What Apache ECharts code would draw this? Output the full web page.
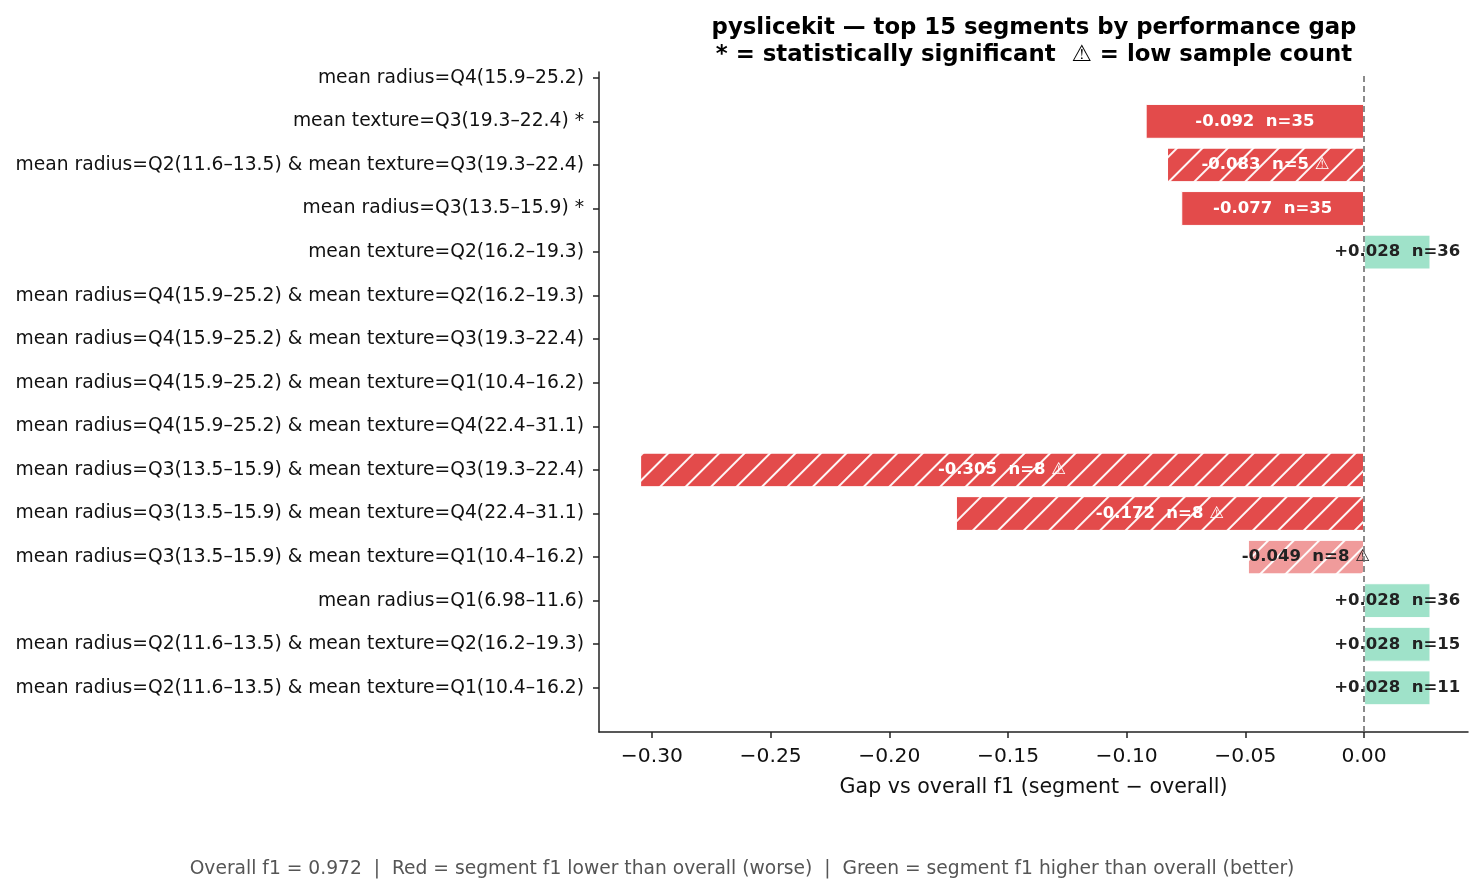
<!DOCTYPE html>
<html>
<head>
<meta charset="utf-8">
<title>pyslicekit segments</title>
<script src="https://cdn.jsdelivr.net/npm/echarts@6/dist/echarts.min.js"></script>
<style>
  html, body { margin: 0; padding: 0; background: #fff; }
  #chart { width: 1484px; height: 894px; }
</style>
</head>
<body>
<div id="chart"></div>
<script>
const segments = [
    'mean radius=Q4(15.9–25.2)',
    'mean texture=Q3(19.3–22.4) *',
    'mean radius=Q2(11.6–13.5) & mean texture=Q3(19.3–22.4)',
    'mean radius=Q3(13.5–15.9) *',
    'mean texture=Q2(16.2–19.3)',
    'mean radius=Q4(15.9–25.2) & mean texture=Q2(16.2–19.3)',
    'mean radius=Q4(15.9–25.2) & mean texture=Q3(19.3–22.4)',
    'mean radius=Q4(15.9–25.2) & mean texture=Q1(10.4–16.2)',
    'mean radius=Q4(15.9–25.2) & mean texture=Q4(22.4–31.1)',
    'mean radius=Q3(13.5–15.9) & mean texture=Q3(19.3–22.4)',
    'mean radius=Q3(13.5–15.9) & mean texture=Q4(22.4–31.1)',
    'mean radius=Q3(13.5–15.9) & mean texture=Q1(10.4–16.2)',
    'mean radius=Q1(6.98–11.6)',
    'mean radius=Q2(11.6–13.5) & mean texture=Q2(16.2–19.3)',
    'mean radius=Q2(11.6–13.5) & mean texture=Q1(10.4–16.2)'
];
const gaps = [null, -0.092, -0.083, -0.077, 0.028, null, null, null, null, -0.305, -0.172, -0.049, 0.028, 0.028, 0.028];
const counts = [null, 35, 5, 35, 36, null, null, null, null, 8, 8, 8, 36, 15, 11];
const xTicks = [-0.30, -0.25, -0.20, -0.15, -0.10, -0.05, 0.00];

const titleText = 'pyslicekit — top 15 segments by performance gap\n* = statistically significant  ⚠ = low sample count';
const footerText = 'Overall f1 = 0.972  |  Red = segment f1 lower than overall (worse)  |  Green = segment f1 higher than overall (better)';
const xName = 'Gap vs overall f1 (segment − overall)';

const FONT = 'DejaVu Sans';
const LOW_N = 10;        // below this the sample is "low"
const SMALL_GAP = 0.05;  // weaker red for small negative gaps
const X_MIN = -0.3223, X_MAX = 0.0438;

const hatch = {
    symbol: 'rect', symbolSize: 1,
    dashArrayX: [1, 0], dashArrayY: [2, 16],
    rotation: -Math.PI / 4,
    color: 'rgba(255,255,255,0.95)'
};

const barData = gaps.map((g, i) => {
    if (g === null) return { value: null, label: { show: false } };
    const n = counts[i];
    const low = n < LOW_N;
    let color = '#9fe2c9', textColor = '#222';
    if (g < 0) {
        if (Math.abs(g) >= SMALL_GAP) { color = '#e34b4b'; textColor = '#fff'; }
        else { color = '#f09b9b'; }
    }
    const txt = (g > 0 ? '+' : '') + g.toFixed(3) + '  n=' + n + (low ? ' ⚠' : '');
    return {
        value: g,
        itemStyle: { color: color, decal: low ? hatch : null },
        label: { formatter: txt, color: textColor }
    };
});

const chart = echarts.init(document.getElementById('chart'));
chart.setOption({
    animation: false,
    title: [{
        text: titleText,
        left: 1034, top: 15, textAlign: 'center', padding: 0,
        textStyle: { fontFamily: FONT, fontSize: 22.8, fontWeight: 'bold', color: '#000', lineHeight: 27 }
    }, {
        text: footerText,
        left: 'center', top: 858, padding: 0,
        textStyle: { fontFamily: FONT, fontSize: 18.7, fontWeight: 'normal', color: '#555', lineHeight: 22 }
    }],
    grid: [
        { left: 599, right: 16, top: 72, bottom: 162, outerBoundsMode: 'none' },
        { left: 599, right: 16, top: 56, bottom: 184.4, outerBoundsMode: 'none' }
    ],
    xAxis: [{
        gridIndex: 0, type: 'value', min: X_MIN, max: X_MAX,
        splitLine: { show: false },
        axisLine: { show: true, onZero: false, lineStyle: { color: '#222', width: 1.5 } },
        axisTick: { show: true, length: 6, customValues: xTicks, lineStyle: { color: '#222', width: 1.5 } },
        axisLabel: {
            customValues: xTicks, margin: 15, fontFamily: FONT, fontSize: 20.3, color: '#111',
            formatter: v => (v < -1e-9 ? '−' : '') + Math.abs(v).toFixed(2)
        },
        name: xName, nameLocation: 'middle', nameGap: 45,
        nameTextStyle: { fontFamily: FONT, fontSize: 20.6, color: '#111', verticalAlign: 'top' }
    }, {
        gridIndex: 1, type: 'value', min: X_MIN, max: X_MAX, show: false
    }],
    yAxis: [{
        gridIndex: 0, type: 'value', min: 0, max: 1,
        splitLine: { show: false }, axisTick: { show: false }, axisLabel: { show: false },
        axisLine: { show: true, onZero: false, lineStyle: { color: '#222', width: 1.5 } }
    }, {
        gridIndex: 1, type: 'category', data: segments, inverse: true,
        axisLine: { show: false, onZero: false },
        axisTick: { show: true, alignWithLabel: true, length: 6, lineStyle: { color: '#222', width: 1.5 } },
        axisLabel: { margin: 15, fontFamily: FONT, fontSize: 18.7, color: '#111' }
    }],
    series: [{
        type: 'bar', xAxisIndex: 1, yAxisIndex: 1,
        data: barData, barWidth: '80%',
        itemStyle: { borderColor: '#fff', borderWidth: 1 },
        label: { show: true, position: 'inside', fontFamily: FONT, fontSize: 16.5, fontWeight: 'bold' },
        z: 2
    }, {
        type: 'line', xAxisIndex: 0, yAxisIndex: 0,
        data: [[0, 0]], showSymbol: false, lineStyle: { opacity: 0 },
        markLine: {
            silent: true, symbol: 'none', label: { show: false },
            lineStyle: { color: '#666', type: [6, 4], width: 1.5 },
            data: [{ xAxis: 0 }]
        },
        z: 3
    }]
});
</script>
</body>
</html>
